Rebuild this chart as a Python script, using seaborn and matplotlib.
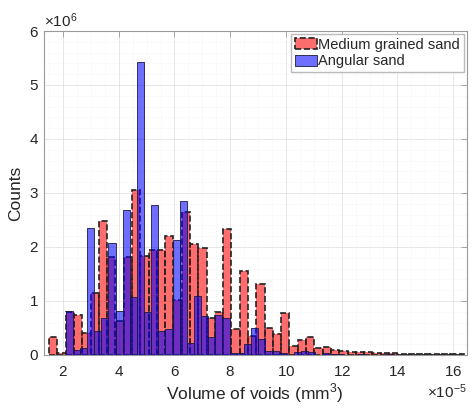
import numpy as np
import matplotlib
matplotlib.use('Agg')
import matplotlib.pyplot as plt
import seaborn as sns
from matplotlib.ticker import ScalarFormatter, MultipleLocator
from matplotlib.patches import Patch

# x in units of 1e-5 mm^3, counts in units of 1e6
medium_start = 1.5
medium_width = 0.2975
medium_counts = [0.34, 0.04, 0.80, 0.74, 0.41, 1.15, 2.48, 1.81, 0.62, 1.81,
                 3.05, 1.84, 1.94, 1.95, 2.20, 1.02, 2.64, 2.05, 1.99, 0.69,
                 0.79, 2.33, 0.48, 1.55, 0.35, 1.32, 0.50, 0.39, 0.78, 0.16,
                 0.28, 0.33, 0.12, 0.15, 0.09, 0.08, 0.06, 0.06, 0.05, 0.04,
                 0.03, 0.03, 0.02, 0.02, 0.015, 0.01, 0.01, 0.01, 0.01, 0.01]

angular_start = 2.097
angular_width = 0.2556
angular_counts = [0.82, 0.09, 0.13, 2.36, 0.45, 0.69, 2.08, 0.82, 2.68, 1.08,
                  5.42, 0.79, 2.77, 0.45, 0.49, 2.12, 2.86, 0.23, 1.10, 0.73,
                  0.34, 0.74, 0.68, 0.03, 0.03, 0.20, 0.50, 0.30, 0.07, 0.07,
                  0.04, 0.0, 0.05, 0.07, 0.05, 0.0, 0.03, 0.01, 0.01, 0.0,
                  0.0, 0.01, 0.0, 0.0, 0.0, 0.01, 0.0]

x_ticks = [2, 4, 6, 8, 10, 12, 14, 16]
y_ticks = [0, 1, 2, 3, 4, 5, 6]

red_face = (1, 0, 0, 0.57)
blue_face = (0, 0, 1, 0.57)


def main():
    sns.set_style('white')
    plt.rcParams['font.family'] = ['Liberation Sans', 'DejaVu Sans']
    plt.rcParams['mathtext.fontset'] = 'custom'
    plt.rcParams['mathtext.rm'] = 'Liberation Sans'

    fig, ax = plt.subplots(figsize=(4.77, 4.08), dpi=100)
    fig.subplots_adjust(left=0.0912, right=0.978, bottom=0.13, top=0.924)

    m_edges = medium_start + medium_width * np.arange(len(medium_counts) + 1)
    m_centers = (m_edges[:-1] + m_edges[1:]) / 2
    a_edges = angular_start + angular_width * np.arange(len(angular_counts) + 1)
    a_centers = (a_edges[:-1] + a_edges[1:]) / 2

    sns.histplot(x=list(m_centers * 1e-5), weights=[c * 1e6 for c in medium_counts],
                 bins=list(m_edges * 1e-5), ax=ax, facecolor=red_face,
                 edgecolor='#222222', linestyle='--', linewidth=1.2)
    sns.histplot(x=list(a_centers * 1e-5), weights=[c * 1e6 for c in angular_counts],
                 bins=list(a_edges * 1e-5), ax=ax, facecolor=blue_face,
                 edgecolor='#1a1a40', linewidth=0.6)

    ax.set_xlim(1.3e-5, 16.48e-5)
    ax.set_ylim(0, 6e6)
    ax.set_xticks(np.array(x_ticks) * 1e-5)
    ax.set_yticks(np.array(y_ticks) * 1e6)
    for axis, order in ((ax.xaxis, -5), (ax.yaxis, 6)):
        fmt = ScalarFormatter(useMathText=True)
        fmt.set_powerlimits((order, order))
        axis.set_major_formatter(fmt)
    ax.xaxis.set_minor_locator(MultipleLocator(0.5e-5))
    ax.yaxis.set_minor_locator(MultipleLocator(0.2e6))

    ax.grid(which='major', color='#e3e3e3', linewidth=0.6)
    ax.grid(which='minor', color='#eeeeee', linewidth=0.5, linestyle=':')
    ax.set_axisbelow(True)

    ax.tick_params(which='major', direction='in', length=4, width=0.6,
                   color='#999999', labelsize=11, labelcolor='#262626',
                   top=True, right=True)
    ax.tick_params(which='minor', length=0)
    ax.tick_params(axis='x', pad=7)
    ax.xaxis.get_offset_text().set_fontsize(11)
    ax.yaxis.get_offset_text().set_fontsize(11)
    for s in ax.spines.values():
        s.set_color('#999999')
        s.set_linewidth(0.8)

    ax.set_xlabel('Volume of voids (mm$^3$)', fontsize=12.5, color='#262626', labelpad=2)
    ax.set_ylabel('Counts', fontsize=12.5, color='#262626', labelpad=4)

    handles = [Patch(facecolor=red_face, edgecolor='#222222', linestyle='--', linewidth=1.2),
               Patch(facecolor=blue_face, edgecolor='#1a1a40', linewidth=0.6)]
    ax.legend(handles, ['Medium grained sand', 'Angular sand'], loc='upper right',
              fontsize=10.5, frameon=True, fancybox=False, framealpha=1,
              edgecolor='#bbbbbb', borderpad=0.25, borderaxespad=0.2,
              handlelength=1.5, handleheight=0.8, handletextpad=0.1,
              labelspacing=0.2)

    fig.savefig('out.png', dpi=100)


if __name__ == '__main__':
    main()
